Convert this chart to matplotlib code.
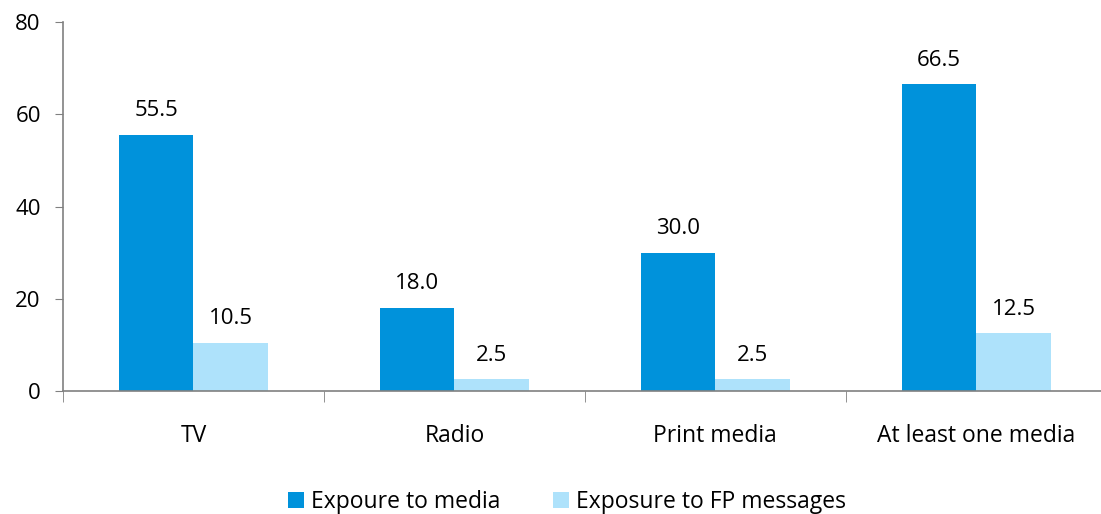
import numpy as np
import matplotlib.pyplot as plt

plt.rcParams['font.family'] = ['Open Sans', 'DejaVu Sans']

categories = ["TV", "Radio", "Print media", "At least one media"]
media = [55.5, 18.0, 30.0, 66.5]
fp_messages = [10.5, 2.5, 2.5, 12.5]
series_names = ["Expoure to media", "Exposure to FP messages"]

dark = "#0092DB"
light = "#AEE2FB"
grey = "#808080"

fig = plt.figure(figsize=(11.01, 5.14), dpi=100)
ax = fig.add_axes([0.0572, 0.2393, 0.948, 0.7177])

x = np.arange(len(categories))
w = 0.285
b1 = ax.bar(x - w / 2, media, w, color=dark, label=series_names[0])
b2 = ax.bar(x + w / 2, fp_messages, w, color=light, label=series_names[1])

for bars, vals in [(b1, media), (b2, fp_messages)]:
    for rect, v in zip(bars, vals):
        ax.text(rect.get_x() + rect.get_width() / 2, v + 3.0, f"{v:.1f}",
                ha="center", va="bottom", fontsize=16)

ax.set_xlim(-0.5, len(categories) - 0.5)
ax.set_ylim(0, 80)
ax.set_yticks([0, 20, 40, 60, 80])
ax.set_xticks(x)
ax.set_xticklabels(categories)
ax.set_xticks(np.arange(-0.5, len(categories)), minor=True)
ax.tick_params(axis="x", which="major", length=0, pad=24, labelsize=16.5)
ax.tick_params(axis="x", which="minor", length=8, color=grey, direction="out")
ax.tick_params(axis="y", length=6, color=grey, labelsize=16, pad=10)

for s in ["top", "right"]:
    ax.spines[s].set_visible(False)
for s in ["left", "bottom"]:
    ax.spines[s].set_color(grey)
    ax.spines[s].set_linewidth(1.2)

fig.legend(loc="lower center", bbox_to_anchor=(0.515, -0.04), ncol=2, frameon=False,
           fontsize=16.5, handlelength=0.7, handleheight=0.7, handletextpad=0.3,
           columnspacing=2.3)

fig.savefig("out.png", dpi=100)
